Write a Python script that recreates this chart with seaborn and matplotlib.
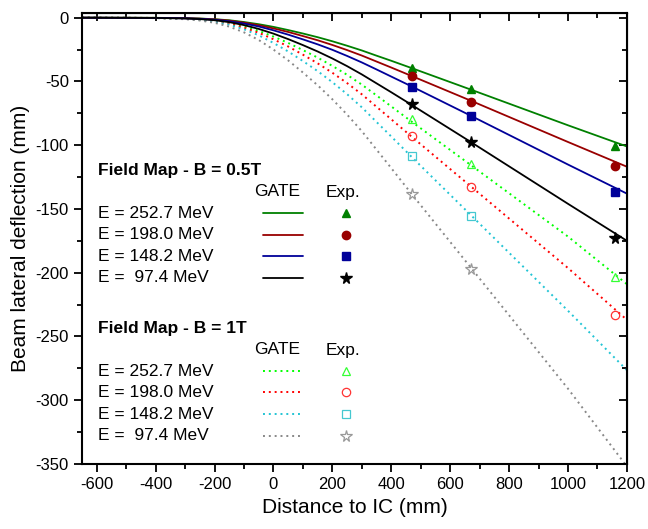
import numpy as np
import pandas as pd
import matplotlib
matplotlib.use("Agg")
import matplotlib.pyplot as plt
from matplotlib.ticker import MultipleLocator
import seaborn as sns

# GATE simulation curves (mm)
x_gate = [-650, -400, -300, -250, -200, -150, -100, -50, 0, 50, 100, 150, 200,
          250, 300, 350, 400, 470, 670, 1000, 1200]

# B = 0.5T
gate_05_e252 = [0, -0.1, -0.35, -0.65, -1.2, -2.0, -3.4, -5.1, -7.2, -9.7, -12.4, -15.3,
                -18.5, -22.0, -25.7, -29.8, -33.8, -39.6, -56.4, -84.4, -101.0]
gate_05_e198 = [0, -0.15, -0.4, -0.75, -1.3, -2.3, -3.9, -5.9, -8.4, -11.2, -14.4, -17.7,
                -21.4, -25.4, -29.7, -34.4, -39.1, -45.8, -65.1, -97.5, -116.9]
gate_05_e148 = [0, -0.15, -0.5, -0.9, -1.6, -2.8, -4.6, -6.9, -9.9, -13.3, -17.0, -20.9,
                -25.2, -30.0, -35.1, -40.6, -46.2, -54.0, -76.9, -115.2, -138.0]
gate_05_e97 = [0, -0.2, -0.6, -1.1, -2.0, -3.5, -5.8, -8.8, -12.5, -16.8, -21.5, -26.5,
               -32.0, -38.0, -44.5, -51.5, -58.5, -68.5, -97.5, -146.0, -175.0]

# B = 1T
gate_1_e252 = [0, -0.2, -0.7, -1.3, -2.4, -4.1, -6.8, -10.3, -14.8, -19.8, -25.4, -31.3,
               -37.8, -44.8, -52.5, -61.0, -69.6, -81.7, -115.6, -171.7, -209.0]
gate_1_e198 = [0, -0.2, -0.8, -1.5, -2.7, -4.7, -7.8, -11.8, -16.9, -22.6, -29.0, -35.8,
               -43.2, -51.3, -60.1, -69.9, -79.7, -93.5, -132.3, -196.4, -237.0]
gate_1_e148 = [0, -0.25, -0.9, -1.7, -3.2, -5.5, -9.1, -13.8, -19.8, -26.5, -34.0, -41.9,
               -50.6, -60.0, -70.3, -81.8, -93.2, -109.4, -154.8, -229.9, -276.5]
gate_1_e97 = [0, -0.3, -1.2, -2.2, -4.0, -7.0, -11.5, -17.5, -25.0, -33.5, -43.0, -53.0,
              -64.0, -76.0, -89.0, -103.5, -118.0, -138.5, -196.0, -291.0, -352.0]

# experimental points
x_exp = [470, 670, 1160]
exp_05_e252 = [-39.5, -56.0, -101.0]
exp_05_e198 = [-46.0, -66.0, -116.5]
exp_05_e148 = [-54.0, -77.5, -136.5]
exp_05_e97 = [-68.0, -97.5, -173.0]
exp_1_e252 = [-79.5, -114.5, -203.0]
exp_1_e198 = [-93.0, -132.5, -233.5]
exp_1_e148 = [-108.5, -155.5]
exp_1_e97 = [-138.0, -197.0]

labels = ["E = 252.7 MeV", "E = 198.0 MeV", "E = 148.2 MeV", "E =  97.4 MeV"]

sns.set_style("ticks")
plt.rcParams["font.family"] = ["Liberation Sans", "DejaVu Sans"]
plt.rcParams["axes.unicode_minus"] = False
for k in ["text.color", "axes.labelcolor", "xtick.color", "ytick.color", "axes.edgecolor"]:
    plt.rcParams[k] = "black"

fig = plt.figure(figsize=(6.48, 5.29), dpi=100)
ax = fig.add_axes([0.1265, 0.123, 0.841, 0.852])

dot = (0, (1, 2))
solid_cols = ["#008000", "#990000", "#000099", "#000000"]
dot_cols = ["#00ff00", "#ff0000", "#22c4d4", "#888888"]
open_cols = ["#33ff33", "#ff3333", "#44c8d0", "#999999"]
mk = ["^", "o", "s", "*"]
msz = [6, 6, 5.2, 8.5]

gate_05 = [gate_05_e252, gate_05_e198, gate_05_e148, gate_05_e97]
gate_1 = [gate_1_e252, gate_1_e198, gate_1_e148, gate_1_e97]
exp_05 = [exp_05_e252, exp_05_e198, exp_05_e148, exp_05_e97]
exp_1 = [exp_1_e252, exp_1_e198, exp_1_e148, exp_1_e97]

# dotted 1T curves first, solid 0.5T on top
for i in range(4):
    df = pd.DataFrame({"x": x_gate, "y": gate_1[i]})
    sns.lineplot(data=df, x="x", y="y", ax=ax, color=dot_cols[i], lw=1.4,
                 linestyle=dot, sort=False, estimator=None)
for i in range(4):
    df = pd.DataFrame({"x": x_gate, "y": gate_05[i]})
    sns.lineplot(data=df, x="x", y="y", ax=ax, color=solid_cols[i], lw=1.3,
                 sort=False, estimator=None)

for i in range(4):
    ax.plot(x_exp, exp_05[i], ls="none", marker=mk[i], ms=msz[i],
            color=solid_cols[i], mec=solid_cols[i])
    xs = x_exp[:len(exp_1[i])]
    ax.plot(xs, exp_1[i], ls="none", marker=mk[i], ms=msz[i],
            mfc="none", mec=open_cols[i], mew=0.9)

ax.set_xlim(-650, 1200)
ax.set_ylim(-350, 3.5)
ax.xaxis.set_major_locator(MultipleLocator(200))
ax.xaxis.set_minor_locator(MultipleLocator(100))
ax.yaxis.set_major_locator(MultipleLocator(50))
ax.yaxis.set_minor_locator(MultipleLocator(25))
ax.tick_params(which="major", direction="out", length=6, width=1.3, labelsize=12)
ax.tick_params(which="minor", direction="out", length=3.5, width=1.3)
for s in ax.spines.values():
    s.set_linewidth(1.5)

top = ax.secondary_xaxis("top")
top.xaxis.set_major_locator(MultipleLocator(200))
top.xaxis.set_minor_locator(MultipleLocator(100))
top.tick_params(which="both", direction="in", labeltop=False, width=1.3)
top.tick_params(which="major", length=6)
top.tick_params(which="minor", length=3.5)
right = ax.secondary_yaxis("right")
right.yaxis.set_major_locator(MultipleLocator(50))
right.yaxis.set_minor_locator(MultipleLocator(25))
right.tick_params(which="both", direction="in", labelright=False, width=1.3)
right.tick_params(which="major", length=6)
right.tick_params(which="minor", length=3.5)

ax.set_xlabel("Distance to IC (mm)", fontsize=15, labelpad=4)
ax.set_ylabel("Beam lateral deflection (mm)", fontsize=15, labelpad=4)

# hand-made legend (two blocks)
tr = ax.transAxes
fs = 12.5
blocks = [
    ("Field Map - B = 0.5T", 0.652, [0.556, 0.509, 0.461, 0.413], "-", solid_cols, None),
    ("Field Map - B = 1T", 0.301, [0.206, 0.159, 0.110, 0.063], dot, dot_cols, open_cols),
]
for title, ty, rows, ls, lcols, ocols in blocks:
    ax.text(0.029, ty, title, transform=tr, fontsize=fs, fontweight="bold", va="center")
    ax.text(0.359, ty - 0.048, "GATE", transform=tr, fontsize=fs, va="center", ha="center")
    ax.text(0.448, ty - 0.050, "Exp.", transform=tr, fontsize=fs, va="center")
    for i, ry in enumerate(rows):
        ax.text(0.029, ry, labels[i], transform=tr, fontsize=fs, va="center")
        ax.plot([0.332, 0.405], [ry, ry], transform=tr, color=lcols[i],
                lw=1.4 if ocols else 1.3, linestyle=ls)
        if ocols is None:
            ax.plot([0.4844], [ry], transform=tr, marker=mk[i], ms=msz[i],
                    color=solid_cols[i], ls="none")
        else:
            ax.plot([0.4844], [ry], transform=tr, marker=mk[i], ms=msz[i],
                    mfc="none", mec=ocols[i], mew=0.9, ls="none")

fig.savefig("out.png", dpi=100)
